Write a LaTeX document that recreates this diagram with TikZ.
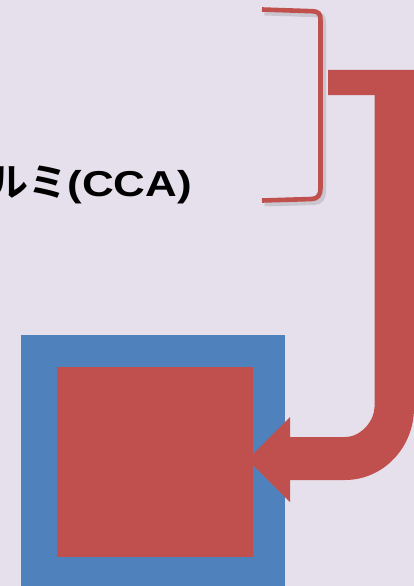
\documentclass[tikz,border=0pt]{standalone}
\usepackage{fontspec}
\newfontfamily\jpfont{Noto Sans CJK JP Bold}
\newfontfamily\latinfont[FakeStretch=1.22]{Liberation Sans Bold}
\definecolor{bgcol}{HTML}{E6E0EC}
\definecolor{accred}{HTML}{C0504D}
\definecolor{accblue}{HTML}{4F81BD}
\tikzset{
  bluebox/.style={fill=accblue, draw=none, inner sep=0pt, minimum width=264pt, minimum height=265pt},
  redbox/.style={fill=accred, draw=none, inner sep=0pt, minimum width=196pt, minimum height=190pt},
  bracketline/.style={draw=accred, line width=4.6pt},
  bracketshadow/.style={draw=black!45, line width=6pt, opacity=0.3},
  labeltext/.style={inner sep=0pt, anchor=base east}
}
\begin{document}
\begin{tikzpicture}[x=1pt,y=-1pt]
\useasboundingbox (0,0) rectangle (414,586);
\clip (0,0) rectangle (414,586);
\fill[bgcol] (0,0) rectangle (414,586);
% squares
\node[bluebox] (outer) at (153,467.5) {};
\node[redbox] (inner) at (155,462) {};
% bent arrow
\fill[accred] (328,70) -- (414,70) -- (414,408)
  .. controls (414,447.8) and (383.1,480) .. (345,480)
  -- (290,480) -- (290,502) -- (247.5,459.5) -- (290,417) -- (290,437) -- (345,437)
  .. controls (361.3,437) and (374.5,420.4) .. (374.5,407)
  -- (374.5,95) -- (328,95) -- cycle;
% bracket shadow
\draw[bracketshadow, shift={(2.5,3)}] (262,9.5) -- (312,11.2)
  .. controls (319,11.5) and (320.5,14) .. (320.5,20) -- (320.5,188)
  .. controls (320.5,195) and (318,198.5) .. (312,199) -- (262,200.5);
% bracket
\draw[bracketline] (262,9.5) -- (312,11.2)
  .. controls (319,11.5) and (320.5,14) .. (320.5,20) -- (320.5,188)
  .. controls (320.5,195) and (318,198.5) .. (312,199) -- (262,200.5);
% label
\node[labeltext] (label) at (192,196) {\jpfont\fontsize{39}{39}\selectfont ルミ\latinfont\fontsize{36}{36}\selectfont (CCA)};
\end{tikzpicture}
\end{document}
